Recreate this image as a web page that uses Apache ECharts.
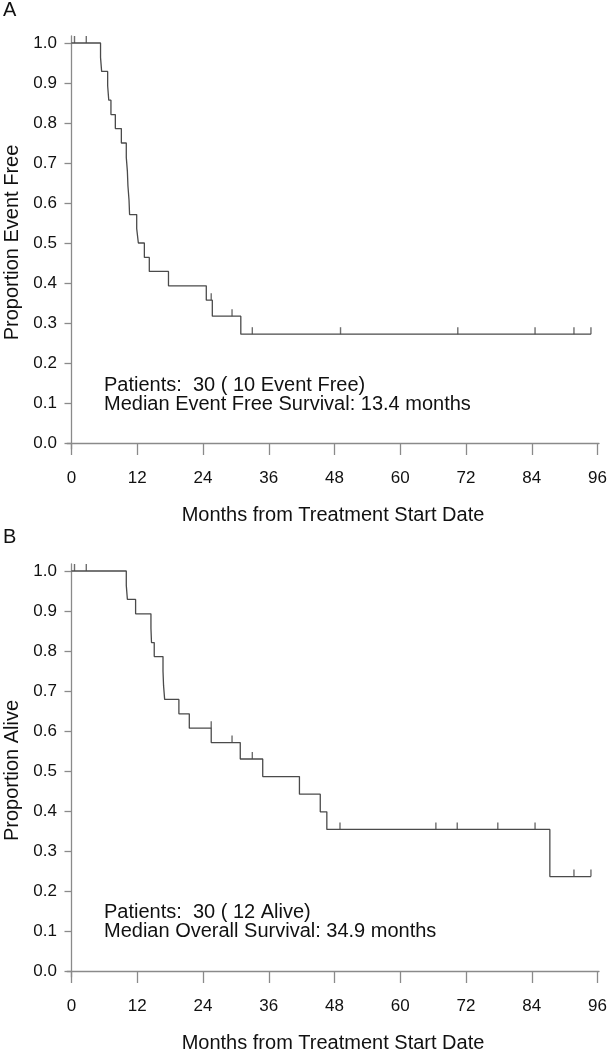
<!DOCTYPE html>
<html>
<head>
<meta charset="utf-8">
<script src="https://cdn.jsdelivr.net/npm/echarts@6/dist/echarts.min.js"></script>
<style>
html,body{margin:0;padding:0;background:#fff;}
#chart{width:607px;height:1050px;}
</style>
</head>
<body>
<div id="chart"></div>
<script>
// ---- Data ----
const xTicks = [0, 12, 24, 36, 48, 60, 72, 84, 96];
const yTicks = [0, 0.1, 0.2, 0.3, 0.4, 0.5, 0.6, 0.7, 0.8, 0.9, 1.0];

// Panel A: event free survival (step times, survival after step)
const timesA = [0, 5.3, 5.5, 6.6, 6.8, 7.2, 8.0, 9.1, 10.0, 10.2, 10.3, 10.5, 10.6, 11.9, 12.2, 13.3, 14.2, 17.7, 24.6, 25.7, 30.9, 94.8];
const survA  = [1.0, 0.964, 0.929, 0.893, 0.857, 0.821, 0.786, 0.750, 0.714, 0.679, 0.643, 0.607, 0.571, 0.536, 0.500, 0.464, 0.429, 0.393, 0.357, 0.317, 0.272, 0.272];
const censorTimesA = [0.55, 2.7, 25.5, 29.3, 33.0, 49.1, 70.5, 84.6, 91.7, 94.8];
const censorSurvA  = [1.0, 1.0, 0.357, 0.317, 0.272, 0.272, 0.272, 0.272, 0.272, 0.272];

// Panel B: overall survival
const timesB = [0, 10.0, 10.2, 11.7, 14.5, 14.6, 15.1, 16.7, 16.8, 17.0, 19.6, 21.5, 25.5, 30.8, 34.9, 41.6, 45.4, 46.6, 87.3, 94.8];
const survB  = [1.0, 0.964, 0.929, 0.893, 0.857, 0.821, 0.786, 0.750, 0.714, 0.679, 0.643, 0.607, 0.571, 0.530, 0.486, 0.442, 0.398, 0.354, 0.236, 0.236];
const censorTimesB = [0.55, 2.7, 25.5, 29.3, 33.0, 49.0, 66.5, 70.4, 77.8, 84.6, 91.7, 94.8];
const censorSurvB  = [1.0, 1.0, 0.607, 0.571, 0.530, 0.354, 0.354, 0.354, 0.354, 0.354, 0.236, 0.236];

const panelLabels = ['A', 'B'];
const yTitles = ['Proportion Event Free', 'Proportion Alive'];
const xTitle = 'Months from Treatment Start Date';
const notesA = ['Patients:  30 ( 10 Event Free)', 'Median Event Free Survival: 13.4 months'];
const notesB = ['Patients:  30 ( 12 Alive)', 'Median Overall Survival: 34.9 months'];

// ---- Chart ----
const FONT = '"Liberation Sans", Arial, sans-serif';
const AXIS = '#8a8a8a';
const LINE = '#4a4a4a';

function zip(a, b) { return a.map((v, i) => [v, b[i]]); }

function makeX(gi) {
  return {
    type: 'value', gridIndex: gi, min: -0.82, max: 96.27,
    splitLine: {show: false},
    axisLine: {show: true, lineStyle: {color: AXIS, width: 1.3}},
    axisTick: {show: true, length: 12, customValues: xTicks, lineStyle: {color: AXIS, width: 1.3}},
    axisLabel: {customValues: xTicks, margin: 21, fontSize: 17, color: '#111', fontFamily: FONT, hideOverlap: false},
    name: xTitle, nameLocation: 'middle', nameGap: 56,
    nameTextStyle: {fontSize: 20, color: '#111', fontFamily: FONT}
  };
}
function makeY(gi) {
  return {
    type: 'value', gridIndex: gi, min: -0.015, max: 1.0175,
    splitLine: {show: false},
    axisLine: {show: true, lineStyle: {color: AXIS, width: 1.3}},
    axisTick: {show: true, length: 7, customValues: yTicks, lineStyle: {color: AXIS, width: 1.3}},
    axisLabel: {customValues: yTicks, margin: 10, fontSize: 17, color: '#111', fontFamily: FONT,
                formatter: v => v.toFixed(1)},
    name: yTitles[gi], nameLocation: 'middle', nameGap: 45,
    nameTextStyle: {fontSize: 20, color: '#111', fontFamily: FONT}
  };
}
function kmLine(gi, t, s) {
  return {type: 'line', xAxisIndex: gi, yAxisIndex: gi, step: 'end', data: zip(t, s),
          showSymbol: false, symbol: 'none', silent: true,
          lineStyle: {color: LINE, width: 1.3}};
}
function censor(gi, t, s) {
  return {type: 'scatter', xAxisIndex: gi, yAxisIndex: gi, data: zip(t, s),
          symbol: 'rect', symbolSize: [1.4, 7], symbolOffset: [0, -3.5], silent: true,
          itemStyle: {color: LINE}};
}
function noteText(lines, top) {
  return lines.map((txt, i) => ({
    type: 'text', left: 104, top: top + i * 19.5,
    style: {text: txt, fontSize: 20, fill: '#111', fontFamily: FONT}
  }));
}

const option = {
  animation: false,
  backgroundColor: '#fff',
  grid: [
    {left: 67, top: 36, width: 532, height: 413, containLabel: false, outerBoundsMode: 'none'},
    {left: 67, top: 564, width: 532, height: 413, containLabel: false, outerBoundsMode: 'none'}
  ],
  xAxis: [makeX(0), makeX(1)],
  yAxis: [makeY(0), makeY(1)],
  series: [
    kmLine(0, timesA, survA), censor(0, censorTimesA, censorSurvA),
    kmLine(1, timesB, survB), censor(1, censorTimesB, censorSurvB)
  ],
  graphic: [
    {type: 'text', left: 3, top: 0, style: {text: panelLabels[0], fontSize: 20, fill: '#111', fontFamily: FONT}},
    {type: 'text', left: 3, top: 527, style: {text: panelLabels[1], fontSize: 20, fill: '#111', fontFamily: FONT}},
    ...noteText(notesA, 375),
    ...noteText(notesB, 902)
  ]
};

echarts.init(document.getElementById('chart'), null, {renderer: 'canvas'}).setOption(option);
</script>
</body>
</html>
